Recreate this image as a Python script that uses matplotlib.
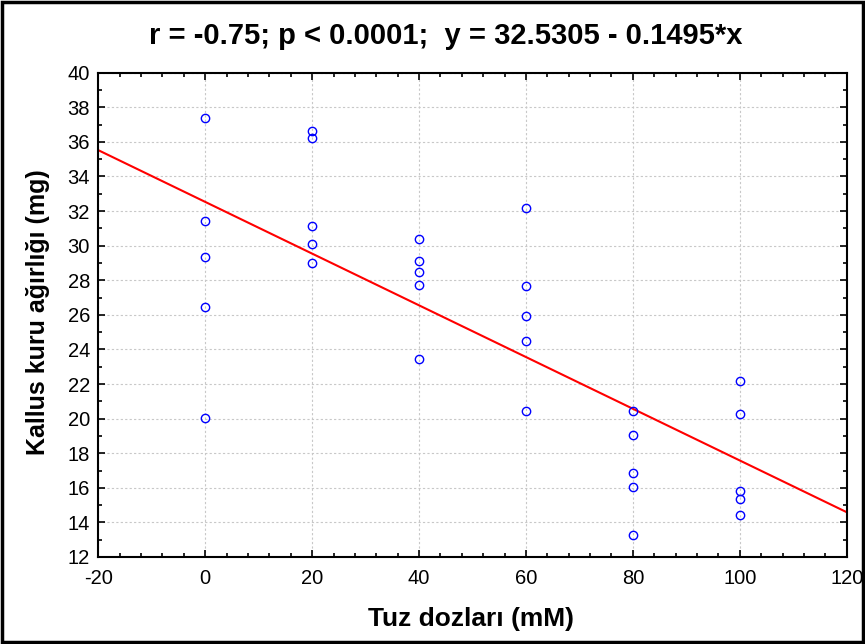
import numpy as np
import matplotlib
matplotlib.use("Agg")
import matplotlib.pyplot as plt
from matplotlib.ticker import MultipleLocator
from matplotlib.patches import Rectangle

# salt dose (mM) and callus dry weight (mg)
doses = [0, 0, 0, 0, 0,
         20, 20, 20, 20, 20,
         40, 40, 40, 40, 40,
         60, 60, 60, 60, 60,
         80, 80, 80, 80, 80,
         100, 100, 100, 100, 100]
weights = [37.38, 31.45, 29.33, 26.48, 20.03,
           36.63, 36.21, 31.14, 30.08, 29.02,
           30.39, 29.14, 28.50, 27.75, 23.42,
           32.20, 27.64, 25.94, 24.46, 20.45,
           20.45, 19.07, 16.85, 16.03, 13.27,
           22.15, 20.24, 15.79, 15.37, 14.43]

intercept = 32.5305
slope = -0.1495
fit_x = [-20, 120]

plt.rcParams['font.family'] = ['Liberation Sans', 'DejaVu Sans']
plt.rcParams['axes.unicode_minus'] = False

W, H = 865, 644
fig = plt.figure(figsize=(W / 100, H / 100), dpi=100)
ax = fig.add_axes([98.3 / W, 1 - 557 / H, (846.7 - 98.3) / W, (557 - 72.7) / H])

fx = np.array(fit_x, dtype=float)
ax.plot(fx, intercept + slope * fx, color='#ff0000', lw=1.5, zorder=2)
ax.plot(doses, weights, linestyle='none', marker='o', ms=6, mfc='none',
        mec='#0000ff', mew=1.0, zorder=3)

ax.set_xlim(-20, 120)
ax.set_ylim(12, 40)
ax.xaxis.set_major_locator(MultipleLocator(20))
ax.xaxis.set_minor_locator(MultipleLocator(4))
ax.yaxis.set_major_locator(MultipleLocator(2))
ax.yaxis.set_minor_locator(MultipleLocator(1))
ax.tick_params(which='both', direction='in', top=True, right=True, labelsize=14.5,
               width=1.2)
ax.tick_params(which='major', length=5)
ax.tick_params(axis='x', which='major', pad=9)
ax.tick_params(axis='y', which='major', pad=6)
ax.tick_params(which='minor', length=3)
ax.grid(True, which='major', linestyle=(0, (2, 2)), color='#c8c8c8', lw=0.8)
for s in ax.spines.values():
    s.set_linewidth(1.5)

fig.text(471 / W, 1 - 619 / H, 'Tuz dozları (mM)', fontsize=19, fontweight='bold',
         ha='center', va='center')
fig.text(38 / W, 1 - 312 / H, 'Kallus kuru ağırlığı (mg)', fontsize=18,
         fontweight='bold', ha='center', va='center', rotation=90)
fig.text(446 / W, 1 - 36 / H, 'r = -0.75; p < 0.0001;  y = 32.5305 - 0.1495*x',
         fontsize=21, fontweight='bold', ha='center', va='center')

fig.patches.append(Rectangle((0.002, 0.003), 0.996, 0.994, transform=fig.transFigure,
                             fill=False, edgecolor='black', lw=2.5))

fig.savefig('out.png', dpi=100)
